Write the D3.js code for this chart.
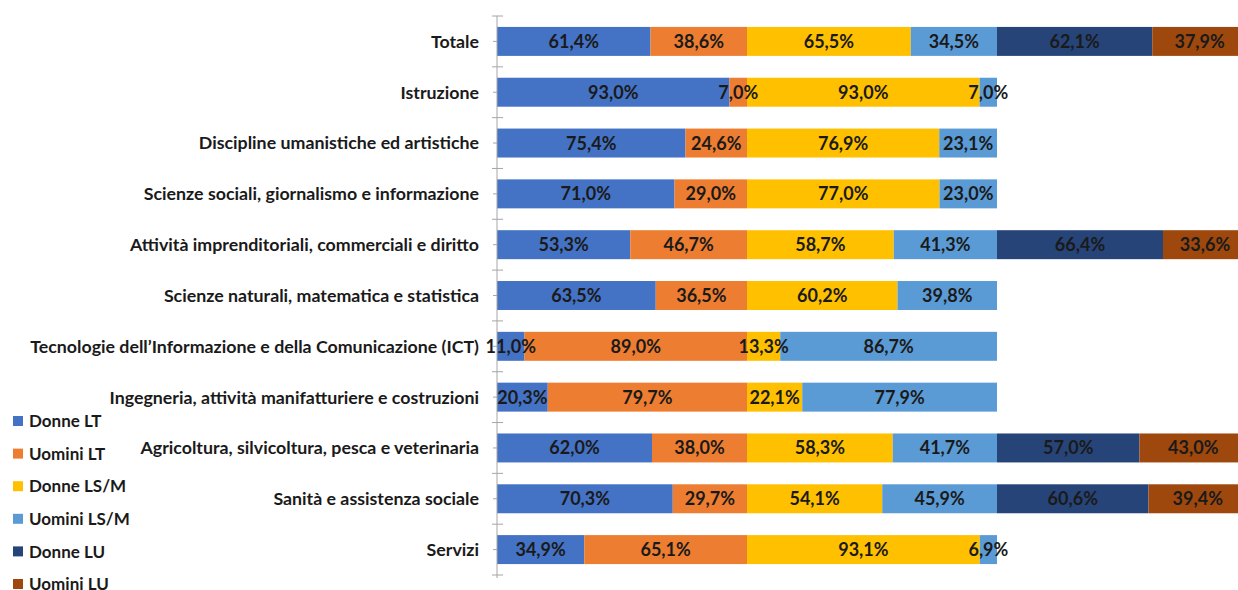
<!DOCTYPE html>
<html>
<head>
<meta charset="utf-8">
<script src="https://cdn.jsdelivr.net/npm/d3@7"></script>
<style>
  body { margin: 0; background: #fff; }
  text { font-family: Lato, "Open Sans", sans-serif; }
</style>
</head>
<body>
<div id="canvas"></div>
<script>
//chart data
var categories = [
  'Totale',
  'Istruzione',
  'Discipline umanistiche ed artistiche',
  'Scienze sociali, giornalismo e informazione',
  'Attività imprenditoriali, commerciali e diritto',
  'Scienze naturali, matematica e statistica',
  'Tecnologie dell\u2019Informazione e della Comunicazione (ICT)',
  'Ingegneria, attività manifatturiere e costruzioni',
  'Agricoltura, silvicoltura, pesca e veterinaria',
  'Sanità e assistenza sociale',
  'Servizi'
];
var donneLT   = [61.4, 93.0, 75.4, 71.0, 53.3, 63.5, 11.0, 20.3, 62.0, 70.3, 34.9];
var uominiLT  = [38.6,  7.0, 24.6, 29.0, 46.7, 36.5, 89.0, 79.7, 38.0, 29.7, 65.1];
var donneLSM  = [65.5, 93.0, 76.9, 77.0, 58.7, 60.2, 13.3, 22.1, 58.3, 54.1, 93.1];
var uominiLSM = [34.5,  7.0, 23.1, 23.0, 41.3, 39.8, 86.7, 77.9, 41.7, 45.9,  6.9];
var donneLU   = [62.1, null, null, null, 66.4, null, null, null, 57.0, 60.6, null];
var uominiLU  = [37.9, null, null, null, 33.6, null, null, null, 43.0, 39.4, null];

var seriesNames = ['Donne LT', 'Uomini LT', 'Donne LS/M', 'Uomini LS/M', 'Donne LU', 'Uomini LU'];
var seriesColors = ['#4472C4', '#ED7D31', '#FFC000', '#5B9BD5', '#264478', '#9E480E'];
var seriesValues = [donneLT, uominiLT, donneLSM, uominiLSM, donneLU, uominiLU];

var cv = { 'width': 1238, 'height': 590, 'axisX': 497 };

//italian number format
var it = d3.formatLocale({ decimal: ',', thousands: '.', grouping: [3], currency: ['€', ''] });
var fmt = it.format('.1f');

//scales
var x = d3.scaleLinear()
  .domain([0, 300])
  .range([cv.axisX, cv.axisX + 750]);

var y = d3.scaleBand()
  .domain(categories)
  .range([16, 575])
  .paddingInner(0.43)
  .paddingOuter(0.215);

var svg = d3.select('#canvas').append('svg')
  .attr('width', cv.width)
  .attr('height', cv.height);

//build segments: each pair of series is a group of 100
var segments = [];
categories.forEach(function(cat, i) {
  for (var g = 0; g < 3; g++) {
    var start = g * 100;
    for (var k = 0; k < 2; k++) {
      var s = g * 2 + k;
      var v = seriesValues[s][i];
      if (v == null) continue;
      segments.push({ cat: cat, series: s, x0: start, x1: start + v, value: v });
      start += v;
    }
  }
});

svg.selectAll('.seg')
  .data(segments)
  .enter().append('rect')
  .attr('class', 'seg')
  .attr('x', d => x(d.x0))
  .attr('y', d => y(d.cat))
  .attr('width', d => x(d.x1) - x(d.x0))
  .attr('height', y.bandwidth())
  .attr('fill', d => seriesColors[d.series]);

svg.selectAll('.lbl')
  .data(segments)
  .enter().append('text')
  .attr('class', 'lbl')
  .attr('x', d => (x(d.x0) + x(d.x1)) / 2)
  .attr('y', d => y(d.cat) + y.bandwidth() / 2)
  .attr('dy', '0.36em')
  .attr('text-anchor', 'middle')
  .attr('font-size', '18px')
  .attr('font-weight', 'bold')
  .attr('fill', '#1a1a1a')
  .text(d => fmt(d.value) + '%');

//vertical axis
var step = y.step();
var axisTop = y(categories[0]) - step * y.paddingInner() / 2;
var axis = svg.append('g').attr('stroke', '#a6a6a6').attr('stroke-width', 1);
axis.append('line')
  .attr('x1', cv.axisX).attr('x2', cv.axisX)
  .attr('y1', axisTop).attr('y2', axisTop + step * categories.length + 3);
d3.range(categories.length + 1).forEach(function(i) {
  axis.append('line')
    .attr('x1', cv.axisX - 5).attr('x2', cv.axisX + 6)
    .attr('y1', axisTop + i * step).attr('y2', axisTop + i * step);
});
categories.forEach(function(cat) {
  axis.append('line')
    .attr('x1', cv.axisX - 4).attr('x2', cv.axisX)
    .attr('y1', y(cat) + y.bandwidth() / 2).attr('y2', y(cat) + y.bandwidth() / 2);
});

svg.selectAll('.cat')
  .data(categories)
  .enter().append('text')
  .attr('class', 'cat')
  .attr('x', 479)
  .attr('y', d => y(d) + y.bandwidth() / 2)
  .attr('dy', '0.36em')
  .attr('text-anchor', 'end')
  .attr('font-size', '17.8px')
  .attr('font-weight', 'bold')
  .attr('fill', '#1a1a1a')
  .text(d => d);

//legend
var legend = svg.selectAll('.legend')
  .data(seriesNames)
  .enter().append('g')
  .attr('class', 'legend')
  .attr('transform', (d, i) => 'translate(13,' + (421 + i * 32.6) + ')');
legend.append('rect')
  .attr('x', 0).attr('y', -5)
  .attr('width', 10).attr('height', 10)
  .attr('fill', (d, i) => seriesColors[i]);
legend.append('text')
  .attr('x', 16)
  .attr('dy', '0.36em')
  .attr('font-size', '17px')
  .attr('font-weight', 'bold')
  .attr('fill', '#1a1a1a')
  .text(d => d);
</script>
</body>
</html>
